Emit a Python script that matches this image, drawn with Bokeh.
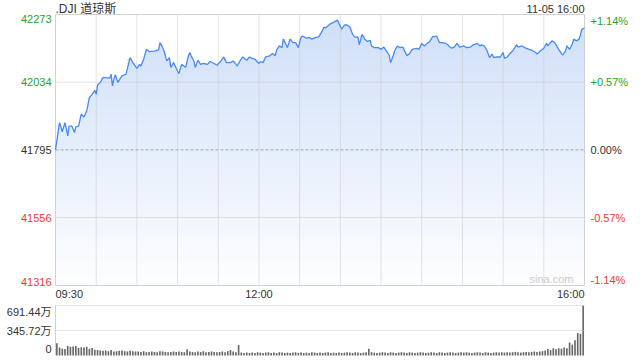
import numpy as np
from bokeh.plotting import figure
from bokeh.models import Range1d, Label
from bokeh.embed import file_html
from bokeh.resources import INLINE

# ---------------- data ----------------
title_text = ".DJI 道琼斯"
date_text = "11-05 16:00"
prev_close = 41795

# minutes after 09:30 and index level
minute_offsets = [0, 3, 5, 7, 9, 10, 12, 14, 15, 17, 19, 21, 23, 25, 27, 29, 30, 31, 33, 35,
                  37, 40, 41, 42, 43, 44, 46, 49, 52, 55, 57, 60, 62, 63, 65, 67, 69, 73, 76, 77,
                  79, 80, 82, 84, 85, 87, 89, 91, 93, 96, 98, 99, 100, 102, 103, 105, 107, 109, 112, 114,
                  117, 119, 122, 124, 126, 129, 131, 134, 136, 138, 141, 143, 145, 147, 150, 151, 153, 155, 158, 160,
                  162, 163, 165, 167, 168, 170, 171, 173, 175, 177, 179, 181, 182, 185, 187, 189, 192, 194, 196, 198,
                  199, 201, 203, 206, 208, 209, 211, 213, 215, 217, 219, 221, 223, 224, 226, 228, 230, 232, 233, 235,
                  238, 240, 242, 244, 246, 247, 249, 250, 252, 254, 256, 259, 261, 263, 266, 268, 270, 272, 274, 276,
                  278, 281, 282, 283, 285, 288, 290, 292, 294, 296, 298, 301, 303, 306, 308, 311, 313, 314, 316, 318,
                  320, 322, 323, 325, 328, 330, 331, 333, 335, 337, 340, 341, 344, 346, 349, 351, 354, 355, 357, 360,
                  362, 363, 366, 368, 371, 373, 374, 376, 377, 379, 381, 382, 384, 386, 387, 388, 390]
prices = [41795, 41891, 41859, 41891, 41844, 41879, 41879, 41856, 41876, 41879, 41921, 41911, 41932, 41980, 41991, 42005, 41991, 42024, 42033, 42050,
          42050, 42048, 42062, 42021, 42044, 42060, 42033, 42056, 42062, 42121, 42103, 42083, 42097, 42091, 42115, 42150, 42142, 42144, 42148, 42174,
          42156, 42144, 42109, 42121, 42086, 42103, 42083, 42064, 42097, 42086, 42127, 42139, 42127, 42109, 42086, 42111, 42097, 42100, 42097, 42107,
          42100, 42094, 42109, 42123, 42103, 42103, 42109, 42091, 42109, 42123, 42111, 42123, 42118, 42115, 42100, 42107, 42103, 42123, 42127, 42135,
          42127, 42147, 42162, 42156, 42186, 42166, 42156, 42186, 42174, 42174, 42156, 42192, 42197, 42189, 42192, 42186, 42192, 42194, 42209, 42229,
          42225, 42233, 42241, 42248, 42253, 42241, 42221, 42236, 42236, 42229, 42203, 42192, 42194, 42166, 42203, 42186, 42178, 42182, 42162, 42156,
          42156, 42150, 42158, 42144, 42130, 42103, 42127, 42144, 42162, 42156, 42158, 42127, 42135, 42150, 42153, 42150, 42171, 42162, 42171, 42178,
          42194, 42197, 42186, 42174, 42174, 42171, 42162, 42154, 42158, 42171, 42158, 42162, 42156, 42158, 42166, 42171, 42162, 42166, 42162, 42147,
          42121, 42133, 42121, 42123, 42123, 42139, 42118, 42123, 42135, 42144, 42166, 42158, 42162, 42156, 42150, 42147, 42139, 42133, 42142, 42154,
          42171, 42162, 42180, 42174, 42150, 42135, 42130, 42144, 42162, 42150, 42168, 42186, 42180, 42186, 42201, 42221, 42225]

price_ticks = [42273, 42034, 41795, 41556, 41316]
pct_labels = ["+1.14%", "+0.57%", "0.00%", "-0.57%", "-1.14%"]

session_minutes = 390
grid_minutes = [30, 60, 90, 120, 150, 180, 210, 240, 270, 300, 330, 360]
time_tick_minutes = [0, 150, 390]
time_labels = ["09:30", "12:00", "16:00"]

# volume, in 万 shares, one bar per two minutes
volumes = [170, 110, 95, 90, 130, 120, 125, 130, 105, 115, 110, 120, 95, 105, 80,
           75, 70, 65, 70, 60, 75, 55, 60, 65, 70, 60, 55, 65, 60, 55,
           55, 50, 60, 45, 50, 55, 50, 45, 60, 55, 50, 45, 50, 55, 50,
           55, 50, 45, 85, 55, 50, 45, 55, 50, 60, 45, 50, 55, 50, 45,
           50, 55, 45, 60, 75, 55, 45, 145, 40, 35, 40, 35, 40, 35, 45,
           40, 35, 40, 45, 35, 40, 35, 45, 40, 35, 40, 35, 40, 45, 35,
           40, 35, 40, 35, 45, 40, 35, 40, 35, 40, 45, 35, 40, 35, 40,
           35, 40, 45, 40, 35, 45, 40, 35, 40, 45, 95, 45, 40, 35, 40,
           45, 40, 35, 45, 40, 35, 40, 45, 40, 35, 45, 40, 35, 40, 45,
           40, 35, 40, 45, 40, 35, 45, 40, 35, 40, 45, 40, 35, 40, 45,
           40, 45, 40, 35, 40, 45, 40, 35, 45, 40, 35, 40, 45, 40, 45,
           40, 45, 40, 45, 50, 45, 40, 45, 50, 45, 50, 55, 50, 55, 60,
           70, 90, 75, 100, 85, 100, 95, 110, 100, 180, 150, 210, 310, 300, 691.44]
vol_minutes = list(range(1, session_minutes, 2))
vol_ticks = [0, 345.72, 691.44]
vol_labels = ["0", "345.72万", "691.44万"]

# ---------------- layout (canvas pixels) ----------------
W, H = 632, 358
L = 55            # left edge of the panels
FW = 529          # panel width
T, B = 14, 285    # price panel top / bottom
VT, VB = 305, 355 # volume panel top / baseline

FONT = "Liberation Sans, Noto Sans CJK SC"
GREEN = "#27a327"
RED = "#ee3a35"
DARK = "#333333"
GRID = "#c8c8c8"
BORDER = "#d0d0d0"
LINE = "#4a8af0"
TOP_RGB = np.array([0xcf, 0xdf, 0xf8])
BOT_RGB = np.array([0xfd, 0xfe, 0xff])

ymax, ymin = price_ticks[0], price_ticks[-1]
vmax = vol_ticks[-1]
ppm = FW / session_minutes
ppp = (B - T) / (ymax - ymin)
ppv = (VB - VT) / vmax

x_start = -L / ppm
x_end = (W - L) / ppm
y_end = ymax + T / ppp
y_start = ymin - (H - B) / ppp
v_end = vmax + VT / ppv
v_start = -(H - VB) / ppv

p = figure(width=W, height=H, x_range=Range1d(x_start, x_end),
           y_range=Range1d(y_start, y_end), x_axis_type=None, y_axis_type=None,
           toolbar_location=None, output_backend="svg", min_border=0)
p.extra_y_ranges = {"vol": Range1d(v_start, v_end)}
p.outline_line_color = None
p.background_fill_color = "white"
p.border_fill_color = "white"

# gradient fill below the line, drawn as horizontal bands (bottom to top)
pr = np.array(prices, dtype=float)
step = 3 / ppp
edges = list(np.arange(ymin, ymax - 1e-9, step)) + [ymax]
overlap = 1 / ppp
for k in range(len(edges) - 1):
    b0, b1 = edges[k], edges[k + 1]
    t = ((b0 + b1) / 2 - ymin) / (ymax - ymin)
    rgb = BOT_RGB + (TOP_RGB - BOT_RGB) * t
    col = "#%02x%02x%02x" % tuple(int(round(c)) for c in rgb)
    y2 = np.clip(pr, b0, b1)
    lo = b0 - overlap if k > 0 else b0
    y1 = np.where(pr > b0, lo, b0)
    p.varea(x=minute_offsets, y1=y1, y2=y2, fill_color=col, fill_alpha=1.0)

# grid lines
p.segment(x0=grid_minutes, x1=grid_minutes, y0=[ymin] * len(grid_minutes),
          y1=[ymax] * len(grid_minutes), line_color=GRID, line_dash="1 1", line_width=1)
mid_ticks = [price_ticks[1], price_ticks[3]]
p.segment(x0=[0] * 2, x1=[session_minutes] * 2, y0=mid_ticks, y1=mid_ticks,
          line_color=GRID, line_dash="1 1", line_width=1)
p.segment(x0=[0], x1=[session_minutes], y0=[prev_close], y1=[prev_close],
          line_color="#a4a4a4", line_dash="3 2", line_width=1)
# price panel border
p.quad(left=[0], right=[session_minutes], bottom=[ymin], top=[ymax],
       fill_color=None, line_color=BORDER, line_width=1)

p.line(minute_offsets, prices, line_color=LINE, line_width=1.3)


def tone(v, base):
    return GREEN if v > base else (RED if v < base else DARK)


for i, v in enumerate(price_ticks):
    base = "top" if i == 0 else ("bottom" if i == len(price_ticks) - 1 else "middle")
    c = tone(v, prev_close)
    p.add_layout(Label(x=0, y=v, x_offset=-4, text=str(v), text_align="right",
                       text_baseline=base, text_color=c, text_font=FONT,
                       text_font_size="11px"))
    p.add_layout(Label(x=session_minutes, y=v, x_offset=6, text=pct_labels[i],
                       text_align="left", text_baseline=base, text_color=c,
                       text_font=FONT, text_font_size="11px"))

aligns = ["left", "center", "right"]
for m, t, a in zip(time_tick_minutes, time_labels, aligns):
    p.add_layout(Label(x=m, y=ymin, y_offset=-8, text=t, text_align=a,
                       text_baseline="middle", text_color=DARK, text_font=FONT,
                       text_font_size="11px"))

p.add_layout(Label(x=0, y=ymax, y_offset=6, text=title_text, text_align="left",
                   text_baseline="middle", text_color=DARK, text_font=FONT,
                   text_font_size="12px"))
p.add_layout(Label(x=session_minutes, y=ymax, y_offset=6, text=date_text,
                   text_align="right", text_baseline="middle", text_color=DARK,
                   text_font=FONT, text_font_size="11px"))
p.add_layout(Label(x=session_minutes, y=ymin, x_offset=-11, y_offset=1, text="sina.com",
                   text_align="right", text_baseline="bottom", text_color="#cccccc",
                   text_font=FONT, text_font_size="11px"))

# ---------------- volume panel ----------------
p.vbar(x=vol_minutes, top=volumes, bottom=0, width=1.2, fill_color="#666666",
       line_color=None, y_range_name="vol")
vg = vol_ticks[1:]
p.segment(x0=[0] * len(vg), x1=[session_minutes] * len(vg), y0=vg, y1=vg,
          line_color=GRID, line_dash="1 1", line_width=1, y_range_name="vol")
p.segment(x0=[0], x1=[0], y0=[0], y1=[vmax], line_color=BORDER, line_width=1,
          y_range_name="vol")
for i, (tv, tl) in enumerate(zip(vol_ticks, vol_labels)):
    base = "bottom" if i == 0 else ("top" if i == len(vol_ticks) - 1 else "middle")
    off = 3 if i == 0 else 0
    p.add_layout(Label(x=0, y=tv, x_offset=-4, y_offset=off, text=tl, text_align="right",
                       text_baseline=base, text_color=DARK, text_font=FONT,
                       text_font_size="11px", y_range_name="vol"))

open("out.html", "w").write(file_html(p, INLINE))
